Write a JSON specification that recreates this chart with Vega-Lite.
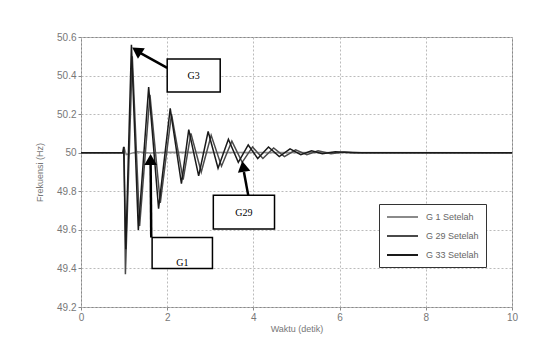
{
  "$schema": "https://vega.github.io/schema/vega-lite/v6.json",
  "width": 431,
  "height": 270,
  "autosize": {"type": "none"},
  "padding": {"left": 81, "top": 37, "right": 45, "bottom": 34},
  "background": "white",
  "config": {
    "view": {"stroke": "#888", "strokeWidth": 1},
    "font": "Liberation Sans",
    "axis": {
      "labelColor": "#777", "labelFontSize": 10, "titleColor": "#777", "titleFontSize": 9, "titleFontWeight": "normal",
      "gridColor": "#bbb", "gridDash": [2, 2], "gridWidth": 1, "domain": false, "tickColor": "#888", "tickSize": 3,
      "labelOverlap": false, "labelFlush": false
    }
  },
  "datasets": {
    "series": [
      {"s": "G 1 Setelah", "t": 0, "f": 50},
      {"s": "G 1 Setelah", "t": 0.99, "f": 50},
      {"s": "G 1 Setelah", "t": 1.01, "f": 50.02},
      {"s": "G 1 Setelah", "t": 1.05, "f": 49.99},
      {"s": "G 1 Setelah", "t": 1.3, "f": 50.005},
      {"s": "G 1 Setelah", "t": 1.6, "f": 49.998},
      {"s": "G 1 Setelah", "t": 2.0, "f": 50.002},
      {"s": "G 1 Setelah", "t": 10, "f": 50},

      {"s": "G 29 Setelah", "t": 0, "f": 50},
      {"s": "G 29 Setelah", "t": 0.98, "f": 50},
      {"s": "G 29 Setelah", "t": 1.0, "f": 50.03},
      {"s": "G 29 Setelah", "t": 1.03, "f": 49.37},
      {"s": "G 29 Setelah", "t": 1.19, "f": 50.5},
      {"s": "G 29 Setelah", "t": 1.36, "f": 49.62},
      {"s": "G 29 Setelah", "t": 1.6, "f": 50.3},
      {"s": "G 29 Setelah", "t": 1.84, "f": 49.74},
      {"s": "G 29 Setelah", "t": 2.1, "f": 50.2},
      {"s": "G 29 Setelah", "t": 2.37, "f": 49.86},
      {"s": "G 29 Setelah", "t": 2.55, "f": 50.1},
      {"s": "G 29 Setelah", "t": 2.79, "f": 49.9},
      {"s": "G 29 Setelah", "t": 3.02, "f": 50.09},
      {"s": "G 29 Setelah", "t": 3.26, "f": 49.93},
      {"s": "G 29 Setelah", "t": 3.5, "f": 50.06},
      {"s": "G 29 Setelah", "t": 3.74, "f": 49.95},
      {"s": "G 29 Setelah", "t": 3.98, "f": 50.03},
      {"s": "G 29 Setelah", "t": 4.22, "f": 49.97},
      {"s": "G 29 Setelah", "t": 4.47, "f": 50.025},
      {"s": "G 29 Setelah", "t": 4.72, "f": 49.98},
      {"s": "G 29 Setelah", "t": 4.98, "f": 50.015},
      {"s": "G 29 Setelah", "t": 5.24, "f": 49.99},
      {"s": "G 29 Setelah", "t": 5.5, "f": 50.01},
      {"s": "G 29 Setelah", "t": 5.8, "f": 49.995},
      {"s": "G 29 Setelah", "t": 6.1, "f": 50.004},
      {"s": "G 29 Setelah", "t": 6.5, "f": 50},
      {"s": "G 29 Setelah", "t": 10, "f": 50},

      {"s": "G 33 Setelah", "t": 0, "f": 50},
      {"s": "G 33 Setelah", "t": 0.97, "f": 50},
      {"s": "G 33 Setelah", "t": 0.99, "f": 50.03},
      {"s": "G 33 Setelah", "t": 1.04, "f": 49.5},
      {"s": "G 33 Setelah", "t": 1.17, "f": 50.56},
      {"s": "G 33 Setelah", "t": 1.33, "f": 49.6},
      {"s": "G 33 Setelah", "t": 1.57, "f": 50.34},
      {"s": "G 33 Setelah", "t": 1.8, "f": 49.71},
      {"s": "G 33 Setelah", "t": 2.07, "f": 50.23},
      {"s": "G 33 Setelah", "t": 2.33, "f": 49.84},
      {"s": "G 33 Setelah", "t": 2.5, "f": 50.12},
      {"s": "G 33 Setelah", "t": 2.73, "f": 49.88},
      {"s": "G 33 Setelah", "t": 2.95, "f": 50.11},
      {"s": "G 33 Setelah", "t": 3.18, "f": 49.92},
      {"s": "G 33 Setelah", "t": 3.42, "f": 50.07},
      {"s": "G 33 Setelah", "t": 3.65, "f": 49.95},
      {"s": "G 33 Setelah", "t": 3.88, "f": 50.04},
      {"s": "G 33 Setelah", "t": 4.1, "f": 49.97},
      {"s": "G 33 Setelah", "t": 4.35, "f": 50.03},
      {"s": "G 33 Setelah", "t": 4.6, "f": 49.98},
      {"s": "G 33 Setelah", "t": 4.85, "f": 50.02},
      {"s": "G 33 Setelah", "t": 5.1, "f": 49.99},
      {"s": "G 33 Setelah", "t": 5.35, "f": 50.01},
      {"s": "G 33 Setelah", "t": 5.6, "f": 49.995},
      {"s": "G 33 Setelah", "t": 5.9, "f": 50.005},
      {"s": "G 33 Setelah", "t": 6.3, "f": 50},
      {"s": "G 33 Setelah", "t": 10, "f": 50}
    ],
    "boxes": [
      {"label": "G3", "x1": 2.0, "x2": 3.23, "y1": 50.486, "y2": 50.315, "tx": 2.615, "ty": 50.4},
      {"label": "G29", "x1": 3.07, "x2": 4.49, "y1": 49.78, "y2": 49.605, "tx": 3.78, "ty": 49.69},
      {"label": "G1", "x1": 1.65, "x2": 3.05, "y1": 49.56, "y2": 49.40, "tx": 2.35, "ty": 49.43}
    ],
    "arrows": [
      {"label": "G3", "x1": 2.0, "y1": 50.44, "x2": 1.35, "y2": 50.52},
      {"label": "G29", "x1": 3.88, "y1": 49.78, "x2": 3.78, "y2": 49.9},
      {"label": "G1", "x1": 1.63, "y1": 49.56, "x2": 1.615, "y2": 49.95}
    ],
    "heads": [
      {"label": "G3", "t": 1.33, "f": 50.525},
      {"label": "G29", "t": 3.77, "f": 49.92},
      {"label": "G1", "t": 1.615, "f": 49.955}
    ]
  },
  "layer": [
    {
      "data": {"name": "series"},
      "mark": {"type": "line", "strokeWidth": 1.5, "clip": true},
      "encoding": {
        "x": {"field": "t", "type": "quantitative", "scale": {"domain": [0, 10], "nice": false},
              "axis": {"values": [0, 2, 4, 6, 8, 10], "tickCount": 12, "title": "Waktu (detik)", "labelPadding": 2, "titlePadding": 2}},
        "y": {"field": "f", "type": "quantitative", "scale": {"domain": [49.2, 50.6], "nice": false, "zero": false},
              "axis": {"values": [49.2, 49.4, 49.6, 49.8, 50, 50.2, 50.4, 50.6], "tickCount": 10, "format": "~g", "title": "Frekuensi (Hz)", "titlePadding": 12, "labelPadding": 2}},
        "color": {"field": "s", "type": "nominal",
                  "scale": {"domain": ["G 1 Setelah", "G 29 Setelah", "G 33 Setelah"], "range": ["#8a8a8a", "#4a4a4a", "#1a1a1a"]},
                  "legend": {"title": null, "orient": "none", "legendX": 298, "legendY": 167, "strokeColor": "#333", "fillColor": "white",
                             "padding": 7, "labelFontSize": 9, "labelColor": "#666", "symbolType": "M-1,0H5.2", "symbolSize": 100,
                             "symbolStrokeWidth": 2, "rowPadding": 8, "labelOffset": 28}}
      }
    },
    {
      "data": {"name": "arrows"},
      "mark": {"type": "rule", "color": "black", "strokeWidth": 2.5},
      "encoding": {
        "x": {"field": "x1", "type": "quantitative"}, "y": {"field": "y1", "type": "quantitative"},
        "x2": {"field": "x2"}, "y2": {"field": "y2"}
      }
    },
    {
      "data": {"name": "heads"},
      "transform": [{"filter": "datum.label === 'G3'"}],
      "mark": {"type": "point", "shape": "triangle", "filled": true, "color": "black", "size": 160, "angle": -57, "opacity": 1},
      "encoding": {"x": {"field": "t", "type": "quantitative"}, "y": {"field": "f", "type": "quantitative"}}
    },
    {
      "data": {"name": "heads"},
      "transform": [{"filter": "datum.label === 'G29'"}],
      "mark": {"type": "point", "shape": "triangle", "filled": true, "color": "black", "size": 160, "angle": -10, "opacity": 1},
      "encoding": {"x": {"field": "t", "type": "quantitative"}, "y": {"field": "f", "type": "quantitative"}}
    },
    {
      "data": {"name": "heads"},
      "transform": [{"filter": "datum.label === 'G1'"}],
      "mark": {"type": "point", "shape": "triangle", "filled": true, "color": "black", "size": 160, "angle": 0, "opacity": 1},
      "encoding": {"x": {"field": "t", "type": "quantitative"}, "y": {"field": "f", "type": "quantitative"}}
    },
    {
      "data": {"name": "boxes"},
      "mark": {"type": "rect", "fill": "white", "stroke": "black", "strokeWidth": 1.5},
      "encoding": {
        "x": {"field": "x1", "type": "quantitative"}, "x2": {"field": "x2"},
        "y": {"field": "y1", "type": "quantitative"}, "y2": {"field": "y2"}
      }
    },
    {
      "data": {"name": "boxes"},
      "mark": {"type": "text", "font": "Liberation Serif", "fontSize": 10, "color": "black"},
      "encoding": {
        "x": {"field": "tx", "type": "quantitative"}, "y": {"field": "ty", "type": "quantitative"},
        "text": {"field": "label"}
      }
    }
  ]
}
